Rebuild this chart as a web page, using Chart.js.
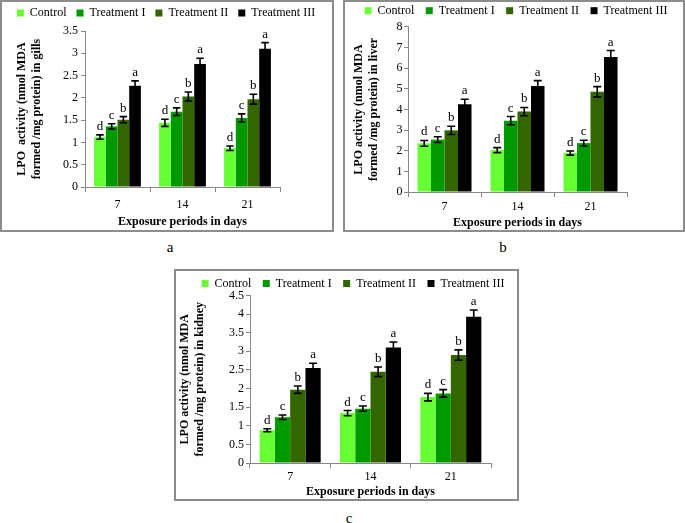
<!DOCTYPE html>
<html><head><meta charset="utf-8">
<script src="https://cdn.jsdelivr.net/npm/chart.js@4/dist/chart.umd.min.js"></script>
<style>
html,body{margin:0;padding:0;background:#fff;}
body{width:685px;height:523px;position:relative;overflow:hidden;font-family:"Liberation Serif",serif;}
.box{position:absolute;box-sizing:border-box;border:2px solid #8c8c8c;background:#fff;}
.box canvas{position:absolute;left:0;top:0;}
.lab{position:absolute;font-size:15px;line-height:1;transform:translate(-50%,-50%);color:#000;}
</style></head><body>
<div class="box" style="left:0;top:0;width:334px;height:232px"><canvas id="ca" width="330" height="228"></canvas></div>
<div class="box" style="left:343px;top:0;width:342px;height:232px"><canvas id="cb" width="338" height="228"></canvas></div>
<div class="box" style="left:174px;top:269px;width:345px;height:232px"><canvas id="cc" width="341" height="228"></canvas></div>
<div class="lab" style="left:170px;top:247px">a</div>
<div class="lab" style="left:503px;top:247px">b</div>
<div class="lab" style="left:349px;top:518px">c</div>
<script>
// ---- data ----
const categories = ['7', '14', '21'];
const seriesNames = ['Control', 'Treatment I', 'Treatment II', 'Treatment III'];
const sigLetters = ['d', 'c', 'b', 'a'];

// gills (a)
const gillsControl = [1.12, 1.44, 0.87];
const gillsT1 = [1.36, 1.69, 1.55];
const gillsT2 = [1.51, 2.03, 1.97];
const gillsT3 = [2.27, 2.76, 3.10];
const gillsErrControl = [0.05, 0.08, 0.05];
const gillsErrT1 = [0.06, 0.085, 0.09];
const gillsErrT2 = [0.07, 0.10, 0.11];
const gillsErrT3 = [0.11, 0.13, 0.14];

// liver (b)
const liverControl = [2.36, 2.03, 1.89];
const liverT1 = [2.54, 3.46, 2.37];
const liverT2 = [2.99, 3.90, 4.86];
const liverT3 = [4.26, 5.14, 6.54];
const liverErrControl = [0.14, 0.12, 0.10];
const liverErrT1 = [0.14, 0.20, 0.14];
const liverErrT2 = [0.20, 0.20, 0.25];
const liverErrT3 = [0.24, 0.26, 0.32];

// kidney (c)
const kidneyControl = [0.88, 1.34, 1.77];
const kidneyT1 = [1.23, 1.46, 1.87];
const kidneyT2 = [1.97, 2.45, 2.90];
const kidneyT3 = [2.55, 3.10, 3.93];
const kidneyErrControl = [0.04, 0.07, 0.10];
const kidneyErrT1 = [0.06, 0.07, 0.10];
const kidneyErrT2 = [0.10, 0.13, 0.14];
const kidneyErrT3 = [0.13, 0.15, 0.18];

const seriesColors = ['#66FF33', '#009900', '#336600', '#000000'];
const FONT = 'Liberation Serif';
const AXIS = '#868686';

const errorBarPlugin = {
  id: 'errorBars',
  afterDatasetsDraw(chart) {
    const ctx = chart.ctx, ys = chart.scales.y;
    chart.data.datasets.forEach((ds, i) => {
      const meta = chart.getDatasetMeta(i);
      meta.data.forEach((bar, j) => {
        const v = ds.data[j], e = ds.errors[j];
        const yT = ys.getPixelForValue(v + e), yB = ys.getPixelForValue(v - e);
        const half = Math.min(4, bar.width * 0.32);
        ctx.save();
        ctx.strokeStyle = '#000'; ctx.lineWidth = 1.6;
        ctx.beginPath();
        ctx.moveTo(bar.x, yT); ctx.lineTo(bar.x, yB);
        ctx.moveTo(bar.x - half, yT); ctx.lineTo(bar.x + half, yT);
        ctx.moveTo(bar.x - half, yB); ctx.lineTo(bar.x + half, yB);
        ctx.stroke();
        ctx.fillStyle = '#000';
        ctx.font = '13px "' + FONT + '"';
        ctx.textAlign = 'center'; ctx.textBaseline = 'alphabetic';
        ctx.fillText(ds.letters[j], bar.x, yT - 5);
        ctx.restore();
      });
    });
  }
};

// keeps the legend on one row, sets its height and its horizontal centre
function legendPlacePlugin(extra, centre) {
  return {
    id: 'legendPlace',
    beforeLayout(chart) {
      const lg = chart.legend;
      if (lg && !lg._placeWrapped) {
        const fit = lg.fit;
        lg.fit = function () { this.maxWidth = chart.width; fit.call(this); this.height += extra; };
        lg._placeWrapped = true;
      }
    },
    afterLayout(chart) {
      const lg = chart.legend;
      if (lg) { lg.left = 0; lg.right = 2 * centre; lg.width = lg.right; }
    }
  };
}

function makeChart(id, cfg) {
  return new Chart(document.getElementById(id), {
    type: 'bar',
    data: {
      labels: categories,
      datasets: seriesNames.map((n, i) => ({
        label: n,
        data: cfg.values[i],
        errors: cfg.errors[i],
        letters: categories.map(() => sigLetters[i]),
        backgroundColor: seriesColors[i],
        borderWidth: 0,
        categoryPercentage: cfg.catPct,
        barPercentage: 1
      }))
    },
    options: {
      responsive: false, animation: false, devicePixelRatio: 1,
      layout: { padding: { left: 0, right: cfg.padR, top: cfg.padT, bottom: cfg.padB } },
      plugins: {
        legend: {
          position: 'top',
          labels: { boxWidth: 7, boxHeight: 7, padding: cfg.legPad, color: '#000', font: { family: FONT, size: 12 } }
        },
        tooltip: { enabled: false }
      },
      scales: {
        x: {
          grid: { display: true, drawOnChartArea: false, offset: true, tickLength: 5, color: AXIS },
          border: { color: AXIS },
          ticks: { color: '#000', padding: cfg.xTickPad, font: { family: FONT, size: 12 } },
          title: { display: true, text: 'Exposure periods in days', color: '#000',
                   font: { family: FONT, size: 12, weight: 'bold' }, padding: { top: 0, bottom: 0 } },
          afterFit: s => { s.height = cfg.xH; }
        },
        y: {
          min: 0, max: cfg.max,
          ticks: { stepSize: cfg.step, color: '#000', padding: cfg.yTickPad, font: { family: FONT, size: 12 },
                   callback: v => String(Math.round(v * 100) / 100) },
          grid: { drawOnChartArea: false, tickLength: 4, color: AXIS },
          border: { color: AXIS },
          title: { display: true, text: cfg.yTitle, color: '#000',
                   font: { family: FONT, size: 12, weight: 'bold', lineHeight: 1.27 },
                   padding: { top: cfg.yTitlePad, bottom: 0 } },
          afterFit: s => { s.width = cfg.yW; }
        }
      }
    },
    plugins: [errorBarPlugin, legendPlacePlugin(cfg.legExtra, cfg.legCentre)]
  });
}

makeChart('ca', {
  values: [gillsControl, gillsT1, gillsT2, gillsT3],
  errors: [gillsErrControl, gillsErrT1, gillsErrT2, gillsErrT3],
  yTitle: ['LPO  activity (nmol MDA', 'formed /mg protein) in gills'],
  max: 3.5, step: 0.5, catPct: 0.72,
  padR: 52, padT: -5, padB: 1, legPad: 10, legExtra: 2, legCentre: 164,
  yW: 83, yTitlePad: 12.3, yTickPad: 3, xH: 42, xTickPad: 6
});
makeChart('cb', {
  values: [liverControl, liverT1, liverT2, liverT3],
  errors: [liverErrControl, liverErrT1, liverErrT2, liverErrT3],
  yTitle: ['LPO activity (nmol MDA', 'formed /mg protein) in liver'],
  max: 8, step: 1, catPct: 0.74,
  padR: 56, padT: -8.8, padB: 0, legPad: 11.5, legExtra: 0.3, legCentre: 171,
  yW: 63, yTitlePad: 6.5, yTickPad: 1.5, xH: 38, xTickPad: 2.5
});
makeChart('cc', {
  values: [kidneyControl, kidneyT1, kidneyT2, kidneyT3],
  errors: [kidneyErrControl, kidneyErrT1, kidneyErrT2, kidneyErrT3],
  yTitle: ['LPO activity (nmol MDA', 'formed /mg protein) in kidney'],
  max: 4.5, step: 0.5, catPct: 0.76,
  padR: 26, padT: -5, padB: 0, legPad: 11.5, legExtra: -4, legCentre: 177,
  yW: 74, yTitlePad: 0.8, yTickPad: 2, xH: 36, xTickPad: 2
});
</script>
</body></html>
